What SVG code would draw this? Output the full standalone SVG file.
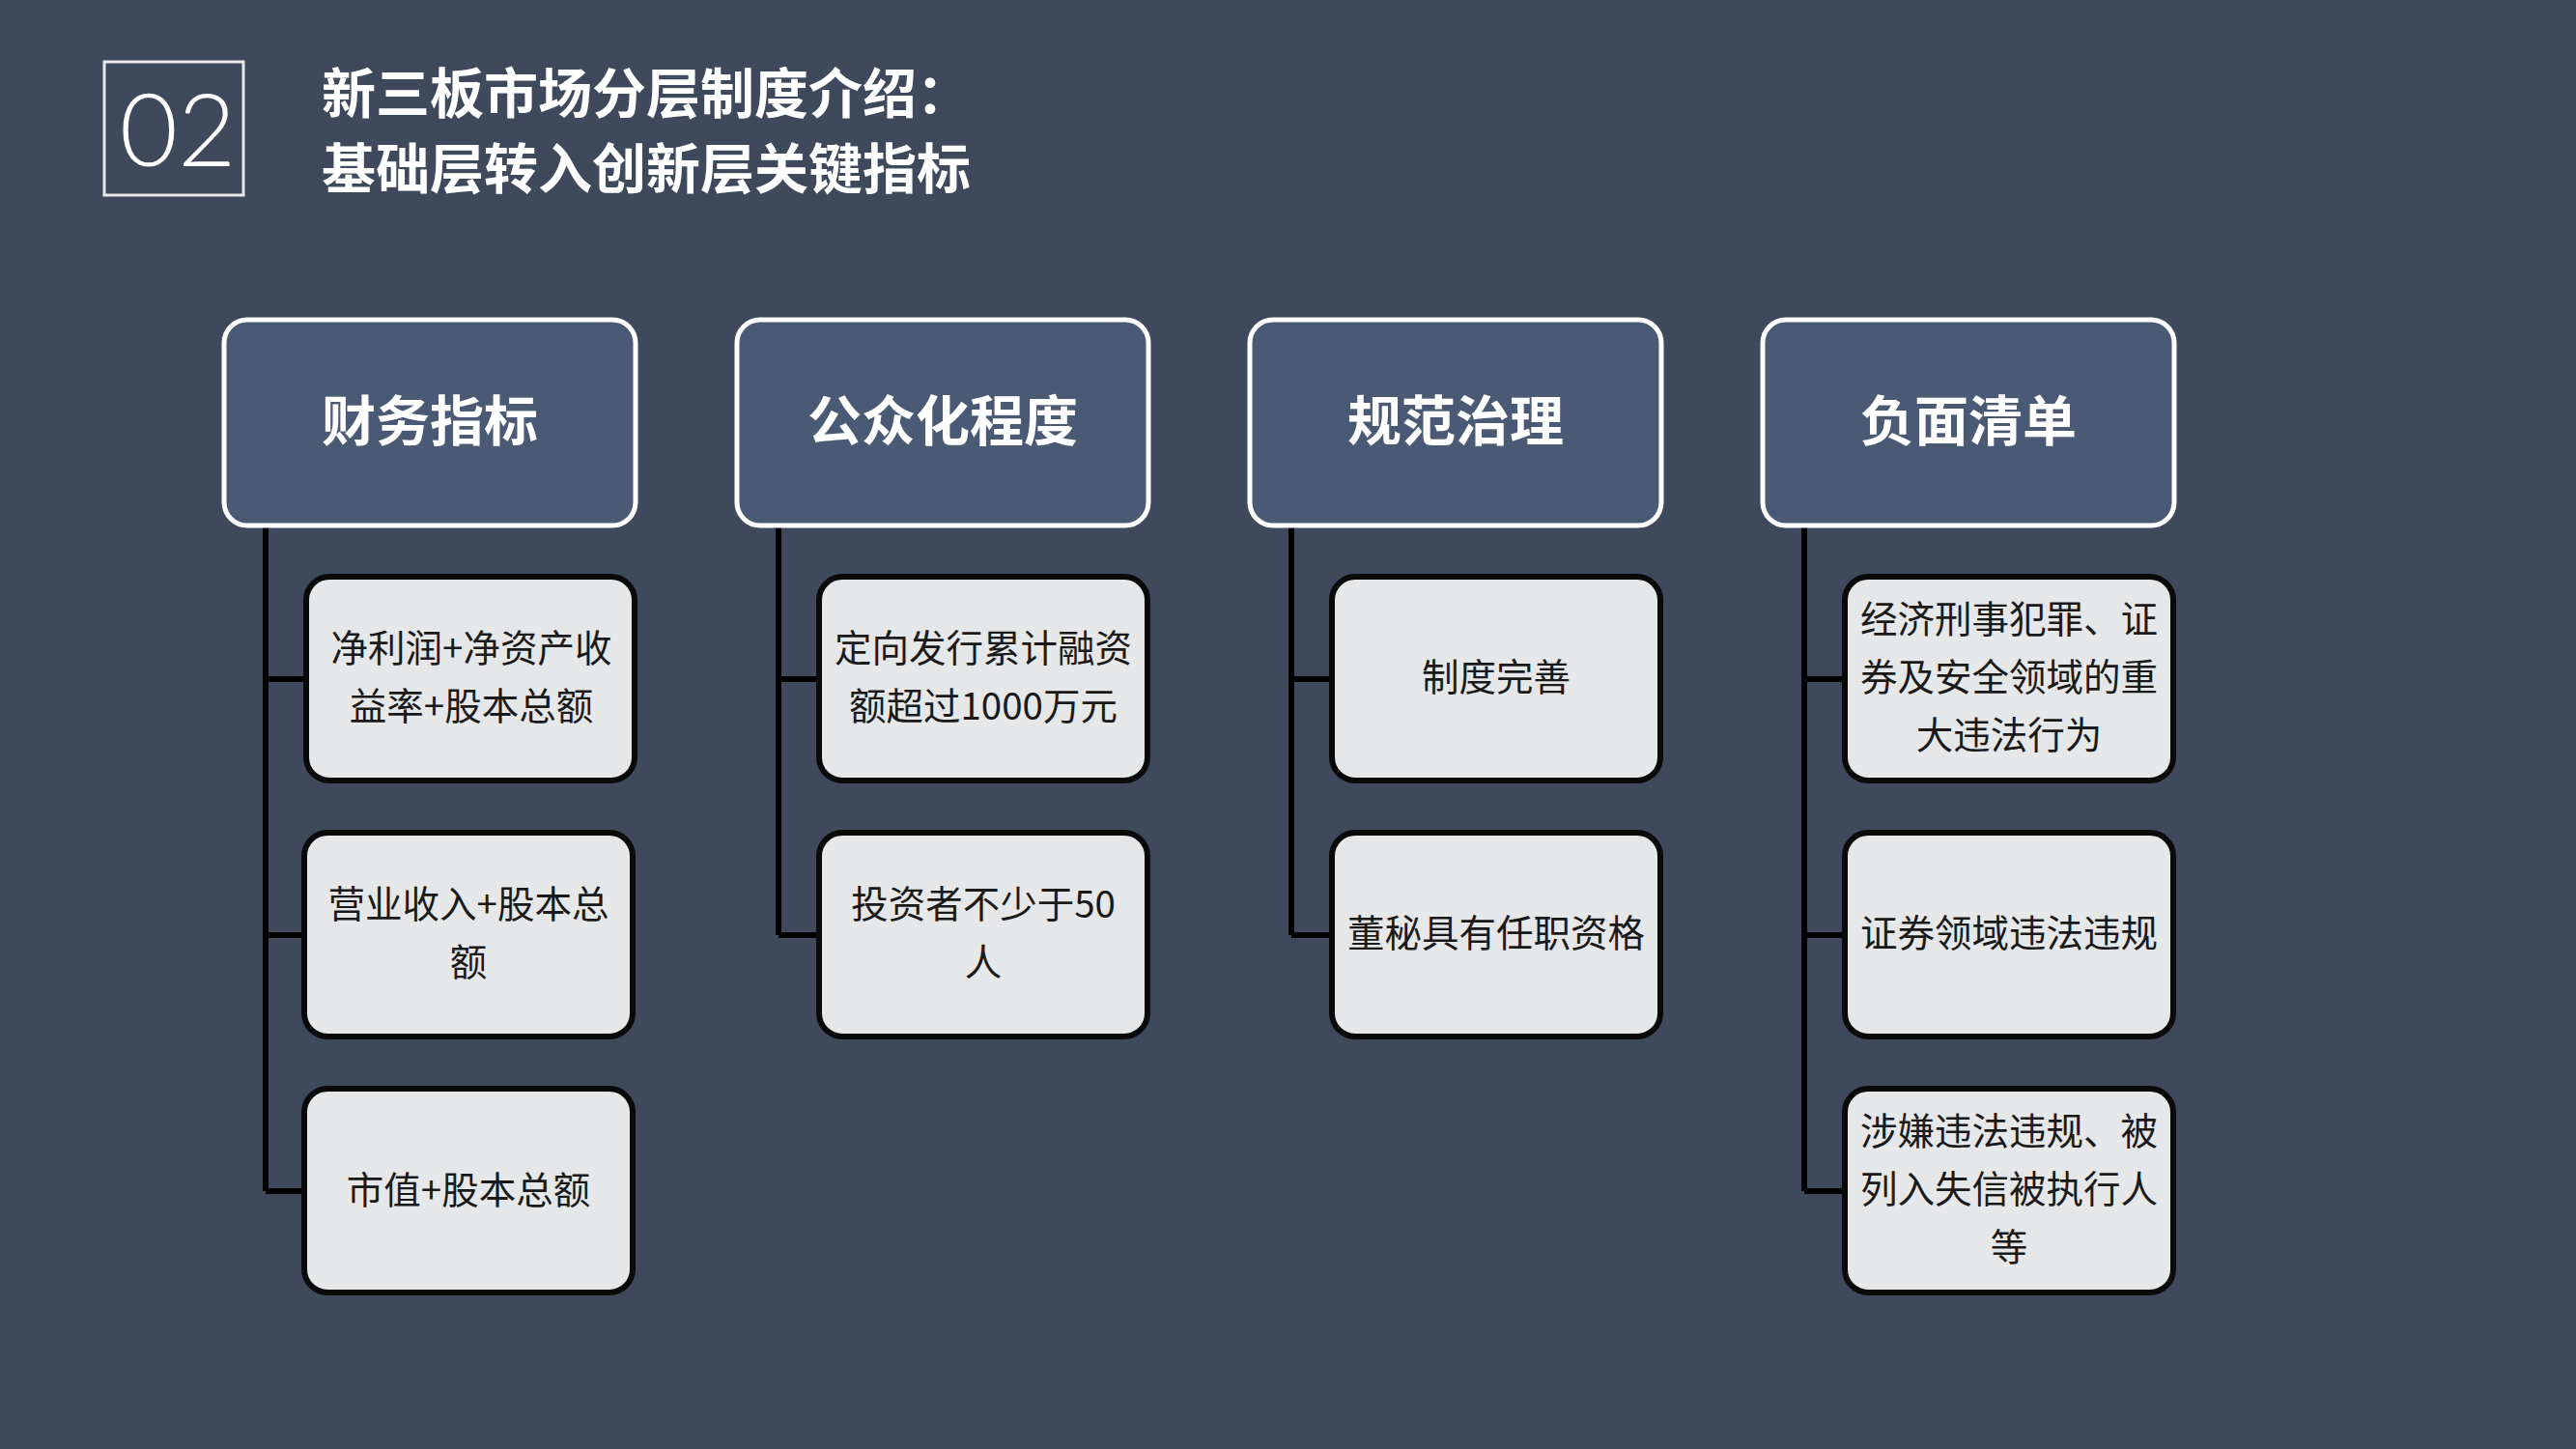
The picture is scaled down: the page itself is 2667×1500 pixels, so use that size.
<svg xmlns="http://www.w3.org/2000/svg" width="2667" height="1500" viewBox="0 0 2667 1500">
<style>
.bg{fill:#3e4a5c}
.hdr{fill:#4b5a74;stroke:#ffffff;stroke-width:5}
.hdrt{font-family:"Noto Sans CJK SC",sans-serif;font-weight:700;font-size:56px;fill:#ffffff;text-anchor:middle}
.child{fill:#e5e7e9;stroke:#0a0a0a;stroke-width:6}
.ct{font-family:"Noto Sans CJK SC",sans-serif;font-size:38.5px;fill:#1a1a1a;text-anchor:middle}
.conn{fill:none;stroke:#000000;stroke-width:6}
.title{font-family:"Noto Sans CJK SC",sans-serif;font-weight:700;font-size:56px;fill:#ffffff}
</style>
<rect class="bg" x="0" y="0" width="2667" height="1500"/>
<g id="title-badge">
<rect x="108" y="64" width="144" height="138" fill="none" stroke="#e8e8e8" stroke-width="3"/>
<text x="184" y="172" font-family="Lato, 'Noto Sans', sans-serif" font-weight="300" font-size="104" fill="#ffffff" text-anchor="middle">02</text>
</g>
<g id="title">
<text class="title" x="333" y="117">新三板市场分层制度介绍：</text>
<text class="title" x="333" y="195">基础层转入创新层关键指标</text>
</g>
<g id="connectors">
<path class="conn" d="M275 544 V1233 M275 703 H315 M275 968 H315 M275 1233 H315"/>
<path class="conn" d="M806 544 V968 M806 703 H846 M806 968 H846"/>
<path class="conn" d="M1337 544 V968 M1337 703 H1377 M1337 968 H1377"/>
<path class="conn" d="M1868 544 V1233 M1868 703 H1908 M1868 968 H1908 M1868 1233 H1908"/>
</g>
<g id="h1"><rect class="hdr" x="232" y="331" width="426" height="213" rx="24"/><text class="hdrt" x="445" y="456">财务指标</text></g>
<g id="h2"><rect class="hdr" x="763" y="331" width="426" height="213" rx="24"/><text class="hdrt" x="976" y="456">公众化程度</text></g>
<g id="h3"><rect class="hdr" x="1294" y="331" width="426" height="213" rx="24"/><text class="hdrt" x="1507" y="456">规范治理</text></g>
<g id="h4"><rect class="hdr" x="1825" y="331" width="426" height="213" rx="24"/><text class="hdrt" x="2038" y="456">负面清单</text></g>
<g id="c1a"><rect class="child" x="317" y="597" width="340" height="211" rx="24"/><text class="ct" x="488" y="685">净利润+净资产收</text><text class="ct" x="488" y="745">益率+股本总额</text></g>
<g id="c1b"><rect class="child" x="315" y="862" width="340" height="211" rx="24"/><text class="ct" x="485" y="950">营业收入+股本总</text><text class="ct" x="485" y="1010">额</text></g>
<g id="c1c"><rect class="child" x="315" y="1127" width="340" height="211" rx="24"/><text class="ct" x="485" y="1246">市值+股本总额</text></g>
<g id="c2a"><rect class="child" x="848" y="597" width="340" height="211" rx="24"/><text class="ct" x="1018" y="685">定向发行累计融资</text><text class="ct" x="1018" y="745">额超过1000万元</text></g>
<g id="c2b"><rect class="child" x="848" y="862" width="340" height="211" rx="24"/><text class="ct" x="1018" y="950">投资者不少于50</text><text class="ct" x="1018" y="1010">人</text></g>
<g id="c3a"><rect class="child" x="1379" y="597" width="340" height="211" rx="24"/><text class="ct" x="1549" y="715">制度完善</text></g>
<g id="c3b"><rect class="child" x="1379" y="862" width="340" height="211" rx="24"/><text class="ct" x="1549" y="980">董秘具有任职资格</text></g>
<g id="c4a"><rect class="child" x="1910" y="597" width="340" height="211" rx="24"/><text class="ct" x="2080" y="655">经济刑事犯罪、证</text><text class="ct" x="2080" y="715">券及安全领域的重</text><text class="ct" x="2080" y="775">大违法行为</text></g>
<g id="c4b"><rect class="child" x="1910" y="862" width="340" height="211" rx="24"/><text class="ct" x="2080" y="980">证券领域违法违规</text></g>
<g id="c4c"><rect class="child" x="1910" y="1127" width="340" height="211" rx="24"/><text class="ct" x="2080" y="1185">涉嫌违法违规、被</text><text class="ct" x="2080" y="1245">列入失信被执行人</text><text class="ct" x="2080" y="1305">等</text></g>
</svg>
